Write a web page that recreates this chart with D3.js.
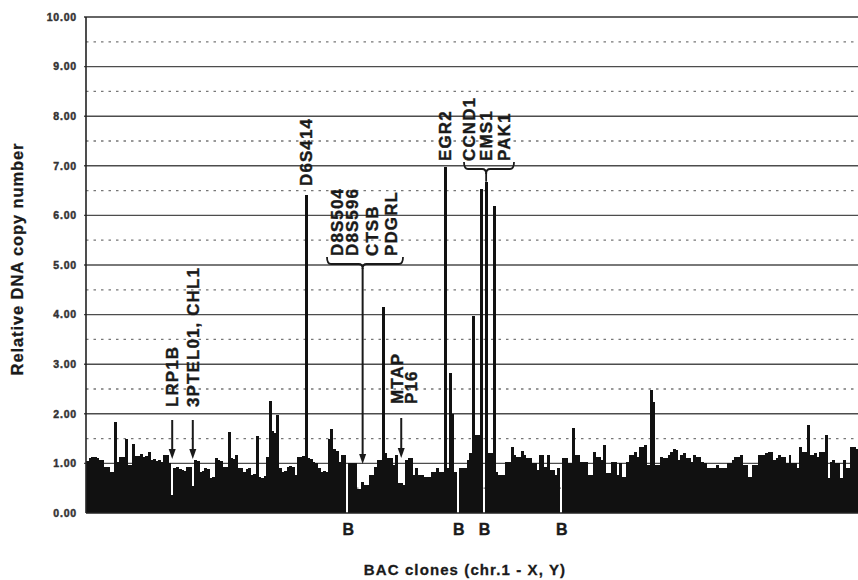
<!DOCTYPE html>
<html><head><meta charset="utf-8">
<script src="https://cdn.jsdelivr.net/npm/d3@7"></script>
<style>
body{margin:0;background:#fff;}
text{font-family:"Liberation Sans",Arial,sans-serif;font-weight:bold;fill:#1a1a1a;}
</style></head><body>
<svg id="c" width="858" height="580"></svg>
<script>
// Relative DNA copy number per BAC clone (chr.1 - X, Y)
const copyNumber = [
1.05,1.1,1.13,1.12,1.1,1.06,1.06,0.93,0.93,0.83,
0.83,1.84,1.03,1.13,1.13,1.5,0.96,0.96,1.4,1.15,
1.15,1.18,1.12,1.15,1.23,1.06,1.08,1.04,1.06,1.02,
1.16,1.16,1.0,0.37,0.9,0.92,0.88,0.86,0.84,0.93,
0.93,0.55,1.06,1.04,0.83,0.85,0.9,0.88,0.7,0.72,
1.1,1.06,1.04,0.93,0.93,1.64,1.1,1.08,1.16,0.9,
0.9,0.83,0.88,0.9,0.76,0.78,1.55,0.72,0.7,0.74,
1.13,2.25,1.65,1.62,1.97,0.9,0.83,0.85,0.93,0.95,
0.92,0.76,1.13,1.13,1.15,6.42,1.1,1.08,1.03,1.0,
0.9,0.83,0.85,0.83,1.5,1.7,1.3,1.25,1.03,1.16,
1.16,0,1.0,1.0,1.0,0.49,0.49,0.63,0.56,0.56,
0.76,0.76,0.93,1.06,1.06,4.15,1.2,1.1,1.1,0.96,
1.16,0.6,0.6,0.56,1.06,1.1,1.1,0.76,0.9,0.76,
0.76,0.73,0.73,0.73,0.83,0.83,0.9,0.83,0.83,6.98,
0.9,2.82,2.0,0.83,0,0.9,0.9,0.9,1.06,1.2,
3.97,1.57,1.57,6.53,0,6.68,1.2,1.2,6.19,0.83,
0.76,0.76,0.76,1.03,1.03,1.33,1.16,1.13,1.13,1.26,
1.16,1.1,1.1,1.0,1.0,0.86,1.16,1.16,0.93,1.16,
0.86,0.86,0.76,0.9,0,1.1,1.1,1.0,1.0,1.71,
1.16,1.16,1.03,1.03,1.03,0.76,0.76,1.23,1.13,1.13,
1.06,1.37,0.8,0.8,1.03,1.03,0.76,1.0,0.73,0.73,
1.03,1.16,1.16,1.23,1.13,1.33,1.33,1.37,0.96,2.48,
2.24,0.96,0.96,1.13,1.1,1.1,1.16,1.23,1.3,1.28,
1.06,1.16,1.2,1.1,1.1,1.03,1.16,1.13,1.13,1.03,
1.0,0.9,0.9,0.9,0.9,0.96,0.9,0.9,0.9,1.0,
1.0,1.06,1.13,1.13,1.16,0.96,0.96,0.73,0.73,0.96,
0.96,1.16,1.16,1.16,1.2,1.23,1.23,1.06,1.1,1.16,
1.13,1.13,1.0,1.16,1.0,1.0,0.9,1.33,1.23,1.23,
1.78,1.16,1.16,1.2,1.13,1.23,1.23,1.58,0.7,1.03,
1.06,1.0,1.0,0.7,1.06,0.9,0.9,1.33,1.33,1.3
];
const yTicks = [0,1,2,3,4,5,6,7,8,9,10];
const yHalfTicks = [0.5,1.5,2.5,3.5,4.5,5.5,6.5,7.5,8.5,9.5];
const blankClones = [101,144,154,184];          // clones marked "B"
const blankLabel = "B";
const yTitle = "Relative DNA copy number";
const xTitle = "BAC clones (chr.1 - X, Y)";
const geneLRP = ["LRP1B"];
const geneCHL = ["3PTEL01, CHL1"];
const geneD6S = ["D6S414"];
const geneD8S = ["D8S504","D8S596","CTSB","PDGRL"];
const geneMTAP = ["MTAP","P16"];
const geneEGR = ["EGR2"];
const geneCCND = ["CCND1","EMS1","PAK1"];

const svg = d3.select("#c");
const pL = 86, pR = 858, pT = 17, pB = 513;
const x = d3.scaleBand().domain(d3.range(copyNumber.length)).range([pL, pR]).padding(0);
const y = d3.scaleLinear().domain([0, 10]).range([pB, pT]);
const bw = x.bandwidth();
const cx = i => x(i) + bw / 2;
const ink = "#1a1a1a";

// grid
svg.append("g").selectAll("line").data(yHalfTicks).join("line")
  .attr("x1", pL).attr("x2", pR).attr("y1", d => y(d)).attr("y2", d => y(d))
  .attr("stroke", "#777").attr("stroke-width", 1.3).attr("stroke-dasharray", "2.5,5");
svg.append("g").selectAll("line").data(yTicks.filter(d => d > 0)).join("line")
  .attr("x1", pL - 2).attr("x2", pR).attr("y1", d => y(d)).attr("y2", d => y(d))
  .attr("stroke", d => d === 10 ? "#333" : "#4d4d4d").attr("stroke-width", d => d === 10 ? 1.7 : 1.4);

// bars
svg.append("g").attr("shape-rendering", "crispEdges").selectAll("rect").data(copyNumber).join("rect")
  .attr("x", (d, i) => x(i)).attr("width", bw + 0.4)
  .attr("y", d => y(d)).attr("height", d => y(0) - y(d))
  .attr("fill", "#111");

// axes
const ax = svg.append("g").attr("transform", `translate(${pL},0)`)
  .call(d3.axisLeft(y).tickValues(yTicks).tickFormat(d3.format(".2f")).tickSize(0).tickPadding(9));
ax.select(".domain").remove();
ax.selectAll("text").attr("font-size", 10.5).attr("font-weight", "bold").attr("letter-spacing", 0.8)
  .style("fill", "#333").attr("stroke", "#333").attr("stroke-width", 0.45)
  .attr("font-family", "'Liberation Sans',Arial,sans-serif");
svg.append("line").attr("x1", pL).attr("x2", pL).attr("y1", pT).attr("y2", pB)
  .attr("stroke", "#222").attr("stroke-width", 1.6);
svg.append("line").attr("x1", pL).attr("x2", pR).attr("y1", pB).attr("y2", pB)
  .attr("stroke", "#222").attr("stroke-width", 1.4);

// titles
svg.append("text").attr("transform", "translate(23,259) rotate(-90)").attr("text-anchor", "middle")
  .attr("font-size", 16.5).attr("letter-spacing", 0.9).attr("stroke", ink).attr("stroke-width", 0.3).text(yTitle);
svg.append("text").attr("x", 465).attr("y", 575).attr("text-anchor", "middle")
  .attr("font-size", 15).attr("letter-spacing", 1.1).attr("stroke", ink).attr("stroke-width", 0.3).text(xTitle);

// B labels
svg.append("g").selectAll("text").data(blankClones).join("text")
  .attr("x", d => cx(d) + 1).attr("y", 535).attr("text-anchor", "middle")
  .attr("font-size", 16).attr("stroke", ink).attr("stroke-width", 0.4).text(blankLabel);

// annotations
const ann = svg.append("g");
function vlabel(t, bx, by) {
  ann.append("text").attr("transform", `translate(${bx},${by}) rotate(-90)`)
    .attr("font-size", 17).attr("letter-spacing", 1.1)
    .attr("stroke", ink).attr("stroke-width", 0.4).text(t);
}
function arrow(xx, y1, y2) {
  ann.append("line").attr("x1", xx).attr("x2", xx).attr("y1", y1).attr("y2", y2 - 8)
    .attr("stroke", ink).attr("stroke-width", 2);
  ann.append("path").attr("d", `M${xx - 3.5},${y2 - 10}L${xx + 3.5},${y2 - 10}L${xx},${y2}Z`).attr("fill", ink);
}
function brace(x1, x2, xc, y0, h) {
  const m = y0 + h / 2, r = 4;
  ann.append("path").attr("fill", "none").attr("stroke", ink).attr("stroke-width", 1.8)
    .attr("d", `M${x1},${y0 - 2}Q${x1},${m} ${x1 + r},${m}L${xc - r},${m}Q${xc},${m} ${xc},${y0 + h}` +
      `M${xc},${y0 + h}Q${xc},${m} ${xc + r},${m}L${x2 - r},${m}Q${x2},${m} ${x2},${y0 - 2}`);
}
vlabel(geneLRP[0], 178, 407);
arrow(cx(33), 420, 459);
vlabel(geneCHL[0], 199, 407);
arrow(cx(41), 420, 459);
vlabel(geneD6S[0], 312, 186);
[343, 358, 378, 397].forEach((bx, k) => vlabel(geneD8S[k], bx, 256));
brace(327, 403, cx(107), 259, 10);
arrow(cx(107), 268, 464);
[403, 417].forEach((bx, k) => vlabel(geneMTAP[k], bx, 404));
arrow(cx(122), 418, 458);
vlabel(geneEGR[0], 451, 161);
[475, 492, 510].forEach((bx, k) => vlabel(geneCCND[k], bx, 161));
brace(464, 514, cx(155), 164, 10);
ann.append("line").attr("x1", cx(155)).attr("x2", cx(155)).attr("y1", 173).attr("y2", y(copyNumber[155]))
  .attr("stroke", ink).attr("stroke-width", 1.8);
</script>
</body></html>
